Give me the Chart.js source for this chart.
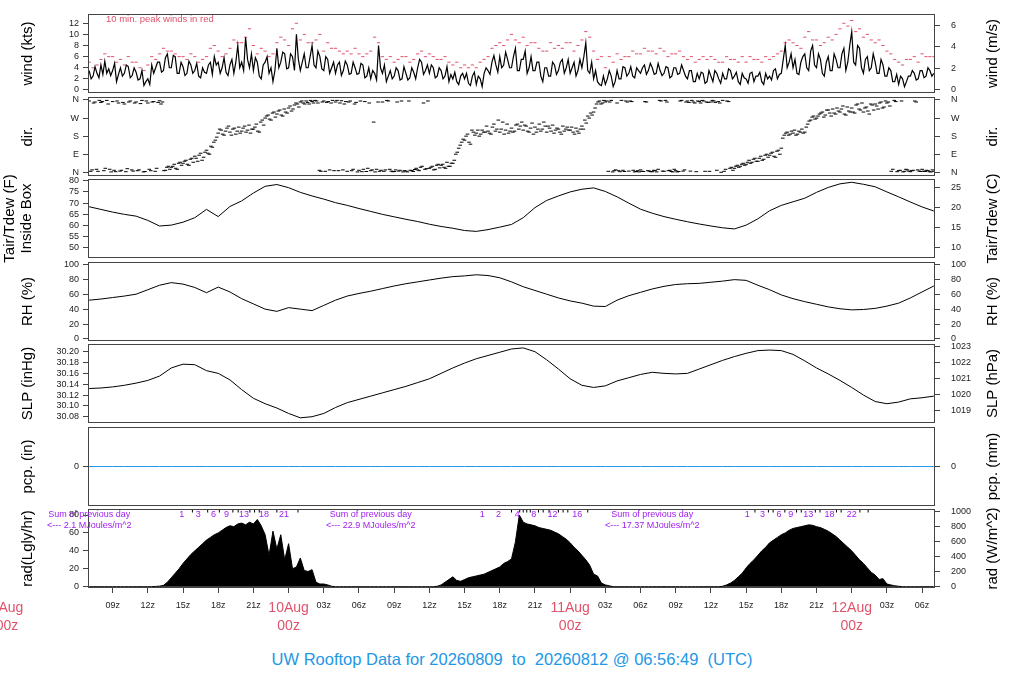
<!DOCTYPE html>
<html>
<head>
<meta charset="utf-8">
<title>UW Rooftop Data</title>
<script src="https://cdn.jsdelivr.net/npm/chart.js@4.4.0/dist/chart.umd.min.js"></script>
<style>
  body { margin: 0; background: #fff; width: 1024px; height: 700px; position: relative; overflow: hidden; }
  canvas { position: absolute; left: 0; }
  #footer { position: absolute; left: 0; top: 650px; width: 1024px; line-height: 20px; text-align: center;
            color: #2297E6; font: 16.5px "Liberation Sans", Arial, sans-serif; white-space: pre; }
</style>
</head>
<body>
<div id="footer">UW Rooftop Data for 20260809  to  20260812 @ 06:56:49  (UTC)</div>
<script>
// time axis is hours after 2026-08-09 00z
const X_MIN = 6.9, X_MAX = 79.1;
const START = 7;

// wind speed (kts), every 10 min from 07z 9Aug
const windKts = [
  3.5, 2.0, 2.5, 4.2, 3.0, 2.2,   4.5, 2.8, 5.2, 3.0, 3.8, 2.6,   // 07-08
  3.5, 4.8, 1.5, 2.8, 4.0, 2.5,   3.0, 4.5, 4.2, 2.2, 2.6, 4.0,   // 09-10
  3.2, 1.8, 2.0, 3.5, 0.8, 1.5,   2.0, 1.0, 4.5, 3.0, 4.0, 5.0,   // 11-12
  5.0, 3.2, 3.5, 5.8, 6.5, 4.0,   4.0, 6.2, 6.0, 3.0, 3.0, 5.0,   // 13-14
  4.2, 2.6, 3.0, 5.2, 4.5, 3.0,   3.5, 4.8, 2.5, 2.2, 4.0, 3.2,   // 15-16
  3.0, 4.5, 5.0, 2.8, 6.0, 4.5,   5.0, 3.0, 4.0, 5.8, 3.2, 2.6,   // 17-18
  4.5, 5.5, 3.0, 5.0, 8.0, 4.0,   5.0, 3.5, 9.5, 5.5, 4.0, 6.5,   // 19-20
  3.5, 5.8, 5.0, 2.5, 2.0, 4.5,   5.0, 6.0, 3.0, 4.0, 1.5, 3.5,   // 21-22
  7.5, 4.0, 5.0, 6.8, 6.5, 3.8,   4.0, 6.5, 6.0, 3.5, 10.0, 5.5,  // 23-24
  3.5, 5.0, 6.5, 4.0, 4.0, 6.0,   8.0, 4.5, 4.0, 7.0, 6.0, 3.8,   // 25-26
  3.5, 6.0, 5.5, 3.0, 4.0, 5.0,   3.0, 4.5, 5.0, 2.6, 3.5, 5.2,   // 27-28
  4.5, 2.8, 3.0, 5.0, 4.0, 2.8,   3.0, 4.8, 4.5, 2.2, 2.5, 4.0,   // 29-30
  2.0, 3.5, 3.0, 1.8, 8.0, 4.0,   3.0, 4.5, 1.5, 2.5, 3.5, 2.0,   // 31-32
  2.5, 4.0, 3.5, 1.8, 2.0, 4.2,   3.0, 1.8, 2.2, 4.0, 3.2, 2.0,   // 33-34
  4.0, 5.5, 5.0, 2.8, 3.5, 4.5,   3.0, 4.5, 4.0, 2.2, 2.5, 4.0,   // 35-36
  3.5, 2.0, 2.5, 4.2, 1.5, 2.8,   2.0, 3.2, 1.5, 1.0, 2.5, 3.0,   // 37-38
  2.0, 3.0, 1.2, 0.8, 2.5, 3.2,   1.0, 2.5, 2.0, 0.6, 3.0, 4.0,   // 39-40
  3.5, 2.8, 5.0, 6.2, 4.5, 3.2,   6.0, 4.0, 4.5, 6.8, 5.5, 4.0,   // 41-42
  4.0, 6.0, 7.5, 3.5, 3.5, 5.5,   5.5, 7.0, 3.0, 4.0, 6.0, 3.5,   // 43-44
  3.5, 5.0, 5.0, 2.5, 1.5, 4.0,   4.0, 2.5, 2.5, 5.0, 4.5, 2.8,   // 45-46
  3.5, 5.0, 5.5, 3.0, 4.0, 5.5,   3.0, 4.0, 5.0, 2.5, 3.5, 5.5,   // 47-48
  4.0, 6.0, 8.5, 3.5, 3.0, 5.0,   2.0, 3.5, 1.5, 1.0, 0.8, 2.5,   // 49-50
  1.0, 2.0, 3.5, 2.5, 0.6, 1.5,   3.5, 2.0, 2.0, 4.2, 4.0, 2.5,   // 51-52
  3.0, 4.2, 2.5, 2.2, 4.0, 3.5,   3.0, 4.0, 4.5, 2.8, 3.5, 4.8,   // 53-54
  4.0, 2.8, 3.0, 4.8, 3.5, 2.6,   3.0, 4.2, 4.0, 2.2, 2.5, 4.0,   // 55-56
  4.0, 2.8, 3.0, 4.5, 3.5, 2.5,   2.0, 3.5, 3.5, 1.5, 1.5, 3.0,   // 57-58
  2.0, 3.2, 3.0, 1.2, 1.5, 3.5,   2.5, 1.5, 3.5, 3.0, 2.0, 1.2,   // 59-60
  3.0, 2.0, 2.0, 3.8, 3.5, 2.0,   2.5, 3.2, 1.5, 1.0, 3.0, 2.2,   // 61-62
  2.0, 1.2, 3.0, 3.2, 1.5, 2.5,   2.5, 3.2, 1.5, 1.0, 3.0, 2.0,   // 63-64
  2.5, 1.8, 3.5, 3.8, 2.0, 2.8,   3.0, 5.5, 8.0, 4.0, 5.0, 6.5,   // 65-66
  4.0, 5.5, 3.0, 2.8, 5.0, 6.0,   6.5, 4.0, 3.5, 7.0, 8.0, 4.5,   // 67-68
  4.0, 6.5, 5.5, 3.0, 2.5, 5.0,   6.0, 3.5, 3.5, 6.5, 5.5, 4.0,   // 69-70
  4.0, 6.5, 7.5, 3.5, 5.0, 8.0,   10.5, 5.0, 4.5, 8.0, 7.5, 4.0,  // 71-72
  3.0, 5.5, 6.0, 3.5, 4.0, 6.5,   5.0, 3.0, 3.0, 5.5, 4.5, 2.5,   // 73-74
  2.5, 4.0, 3.5, 1.5, 1.5, 2.8,   1.0, 2.5, 2.0, 0.6, 1.5, 2.5,   // 75-76
  2.5, 3.5, 3.0, 1.8, 2.0, 3.5,   3.5, 2.2, 2.5, 4.0, 3.5, 2.5,   // 77-78
  3.0
];

// 10 min. peak wind (kts), every 20 min
const peakKts = [
  5.0, 4.0, 4.5,  5.5, 6.5, 6.0,  6.0, 5.0, 5.5,  4.5, 6.0, 5.0,   // 07-10
  5.0, 4.0, 3.5,  4.5, 6.0, 5.5,  6.5, 7.5, 7.0,  7.0, 6.5, 6.0,   // 11-14
  6.0, 5.5, 6.5,  6.0, 5.0, 5.5,  6.0, 7.5, 8.0,  7.0, 6.0, 6.5,   // 15-18
  7.5, 9.0, 8.5,  8.5, 9.5, 11.0, 8.0, 6.5, 7.5,  7.0, 6.0, 6.5,   // 19-22
  8.5, 9.5, 9.0,  8.0, 11.0, 12.0, 9.0, 10.0, 8.5, 8.5, 9.0, 10.0, // 23-26
  7.0, 8.5, 7.5,  7.5, 7.0, 6.5,  7.0, 6.5, 7.5,  6.5, 6.0, 6.5,   // 27-30
  7.0, 9.5, 8.5,  6.0, 5.5, 6.0,  5.0, 5.5, 6.0,  6.0, 5.0, 5.5,   // 31-34
  6.5, 7.0, 6.0,  6.5, 6.0, 5.5,  5.5, 6.0, 5.0,  4.5, 5.0, 4.0,   // 35-38
  4.5, 4.0, 4.5,  4.0, 5.0, 5.5,  6.0, 7.5, 8.0,  8.5, 8.0, 9.0,   // 39-42
  10.0, 9.0, 8.5, 9.5, 8.0, 8.5,  8.5, 7.5, 7.0,  7.0, 8.5, 7.5,   // 43-46
  8.0, 7.5, 8.5,  8.5, 7.0, 8.0,  9.0, 10.5, 9.5, 7.0, 5.5, 6.0,   // 47-50
  4.0, 6.0, 5.0,  6.5, 5.5, 6.0,  6.0, 7.0, 6.5,  6.5, 7.5, 7.0,   // 51-54
  7.0, 6.5, 7.5,  7.0, 6.0, 6.5,  6.5, 7.0, 6.0,  5.5, 6.0, 5.0,   // 55-58
  5.5, 6.0, 5.5,  6.0, 5.5, 5.0,  5.0, 6.0, 5.5,  5.5, 5.0, 6.0,   // 59-62
  5.0, 6.0, 5.5,  5.5, 5.0, 6.0,  5.5, 6.0, 6.5,  7.0, 8.5, 9.0,   // 63-66
  8.5, 8.0, 7.5,  9.5, 10.5, 9.0, 9.0, 8.0, 8.5,  9.5, 9.0, 10.0,  // 67-70
  11.0, 12.0, 11.5, 12.5, 10.5, 11.0, 9.5, 10.0, 9.0, 8.5, 9.0, 8.0, // 71-74
  7.0, 6.5, 5.5,  5.0, 4.5, 5.5,  5.5, 6.0, 5.0,  6.5, 6.0, 6.0,   // 75-78
  6.0
];

// wind direction (deg), every 15 min from 07:00
const dirDeg = [
  355, 12, 350, 5,    348, 8, 358, 15,    352, 3, 345, 10,    340, 18, 355, 6,      // 07-10
  350, 12, 358, 4,    345, 8, 352, 20,    356, 350, 10, 30,   25, 40, 15, 50,       // 11-14
  45, 60, 35, 70,     80, 55, 95, 75,     110, 90, 125, 160,  195, 210, 185, 220,   // 15-18
  200, 215, 190, 225, 205, 230, 210, 195, 215, 240, 200, 260, 270, 285, 260, 300,   // 19-22
  290, 310, 280, 300, 320, 305, 335, 340, 350, 345, 355, 340, 352, 358, 345, 5,     // 23-26
  355, 348, 12, 358,  350, 8, 356, 340,   5, 355, 15, 348,    10, 3, 352, 20,       // 27-30
  8, 250, 15, 5,      350, 12, 355, 6,    4, 350, 10, 2,      6, 355, 8, 14,        // 31-34
  12, 25, 345, 18,    20, 30, 15, 40,     35, 25, 50, 30,     45, 90, 120, 150,     // 35-38
  160, 190, 140, 200, 195, 180, 210, 200, 205, 190, 240, 215, 200, 250, 210, 195,   // 39-42
  220, 205, 240, 230, 210, 230, 200, 245, 225, 215, 205, 250, 200, 220, 235, 210,   // 43-46
  215, 190, 205, 225, 210, 200, 220, 195, 230, 260, 280, 295, 300, 340, 355, 345,   // 47-50
  350, 5, 358, 8,     345, 3, 10, 355,    6, 352, 2, 8,       12, 4, 350, 6,        // 51-54
  3, 8, 15, 355,      5, 350, 10, 2,      8, 4, 358, 12,      355, 6, 350, 3,       // 55-58
  352, 358, 5, 348,   350, 355, 10, 345,  358, 15, 352, 25,   20, 35, 30, 45,       // 59-62
  40, 60, 50, 70,     55, 80, 65, 90,     85, 100, 75, 110,   120, 185, 200, 190,   // 63-66
  195, 185, 205, 215, 200, 240, 260, 280, 270, 290, 300, 285, 310, 280, 295, 320,   // 67-70
  300, 330, 285, 305, 320, 295, 340, 310, 300, 325, 290, 335, 340, 315, 350, 325,   // 71-74
  345, 330, 15, 352,  8, 355, 5, 12,      3, 10, 350, 6,      15, 4, 8, 2,          // 75-78
  5
];
// wind direction (deg), every 15 min from 07:07:30
const dirDeg2 = [
  5, 345, 15, 358,    352, 20, 340, 2,    10, 355, 6, 348,    3, 350, 12, 345,      // 07-10
  8, 342, 2, 355,     15, 350, 5, 348,    340, 8, 25, 15,     30, 20, 45, 35,       // 11-14
  55, 40, 65, 50,     70, 85, 60, 100,    95, 130, 150, 175,  215, 190, 205, 230,   // 15-18
  185, 220, 205, 195, 220, 200, 235, 215, 225, 205, 250, 235, 280, 265, 295, 275,   // 19-22
  305, 285, 315, 295, 330, 315, 345, 325, 355, 340, 348, 358, 345, 355, 10, 350,    // 23-26
  5, 352, 345, 8,     358, 345, 12, 352,  350, 8, 340, 2,     355, 15, 4, 345,      // 27-30
  12, 2, 350, 10,     5, 358, 15, 3,      12, 6, 355, 8,      2, 10, 4, 20,         // 31-34
  8, 30, 15, 355,     25, 12, 35, 22,     40, 20, 30, 45,     60, 100, 135, 165,    // 35-38
  180, 150, 210, 185, 210, 190, 200, 230, 195, 225, 205, 260, 215, 190, 240, 205,   // 39-42
  200, 235, 215, 250, 235, 205, 220, 190, 200, 240, 215, 230, 230, 205, 195, 220,   // 43-46
  200, 230, 215, 210, 225, 190, 205, 215, 215, 245, 270, 285, 320, 350, 340, 358,   // 47-50
  355, 350, 2, 12,    8, 358, 4, 350,     355, 10, 4, 2,      5, 352, 8, 3,         // 51-54
  10, 2, 358, 6,      358, 8, 4, 15,      2, 355, 6, 350,     348, 358, 345, 355,   // 55-58
  345, 355, 350, 5,   358, 348, 352, 0,   5, 355, 20, 10,     30, 25, 40, 35,       // 59-62
  50, 45, 65, 55,     70, 60, 85, 75,     95, 80, 105, 90,    170, 195, 185, 205,   // 63-66
  210, 190, 200, 195, 225, 255, 275, 265, 280, 295, 275, 310, 295, 315, 290, 305,   // 67-70
  315, 290, 325, 300, 300, 335, 315, 345, 320, 305, 340, 310, 330, 345, 320, 355,   // 71-74
  350, 5, 358, 3,     10, 2, 15, 6,       8, 355, 12, 4,      6, 10, 3, 12          // 75-78
];

// hourly values 07z 9Aug .. 07z 12Aug
const tairF = [
  68.4, 67.2, 66.0, 65.0, 64.2, 62.3, 59.8, 60.2, 61.5, 63.5, 67.2, 64.0,   // 07-18
  68.5, 71.0, 74.5, 77.5, 78.3, 76.9, 74.8, 73.2, 71.8, 70.2, 69.0, 67.6,   // 19-30
  66.3, 65.0, 63.9, 62.8, 61.8, 60.6, 59.6, 58.8, 57.8, 57.4, 58.2, 59.3,   // 31-42
  60.5, 63.5, 68.0, 71.2, 73.2, 75.0, 76.2, 76.8, 75.2, 72.8, 70.0, 67.3,   // 43-54
  65.5, 64.0, 62.8, 61.7, 60.7, 59.8, 59.0, 58.5, 60.2, 63.0, 66.6, 69.0,   // 55-66
  70.6, 72.2, 74.8, 77.0, 78.6, 79.3, 78.4, 77.3, 75.0, 72.8, 70.5, 68.3,   // 67-78
  66.5
];
const rhPct = [
  52, 53.5, 55.5, 57.5, 60, 66, 72, 75.5, 73.5, 69, 62, 69.5,               // 07-18
  63, 54, 47, 40, 37, 42, 40, 38, 45, 52, 57.5, 61,                         // 19-30
  64, 67.5, 71, 74, 76.5, 79, 81.5, 83.5, 84.5, 86, 85, 82,                 // 31-42
  76.5, 70, 65, 60, 55, 51, 48, 44, 43.5, 52, 58, 62.5,                     // 43-54
  67, 70.5, 73, 74, 74.5, 76, 77.5, 79.5, 78.5, 72, 66, 59,                 // 55-66
  54, 50, 46.5, 43, 40.5, 39, 39.5, 41, 44, 48, 55, 63,                     // 67-78
  71
];
const slpInHg = [
  30.132, 30.133, 30.135, 30.138, 30.142, 30.147, 30.155, 30.170, 30.177, 30.176, 30.165, 30.160, // 07-18
  30.148, 30.130, 30.114, 30.104, 30.096, 30.086, 30.078, 30.080, 30.086, 30.097, 30.106, 30.112, // 19-30
  30.118, 30.124, 30.130, 30.136, 30.143, 30.150, 30.160, 30.170, 30.179, 30.187, 30.193, 30.199, // 31-42
  30.205, 30.207, 30.200, 30.185, 30.168, 30.150, 30.138, 30.134, 30.137, 30.146, 30.152, 30.158, // 43-54
  30.162, 30.160, 30.159, 30.160, 30.168, 30.176, 30.184, 30.191, 30.197, 30.202, 30.203, 30.202, // 55-66
  30.195, 30.183, 30.170, 30.159, 30.147, 30.134, 30.120, 30.108, 30.104, 30.107, 30.113, 30.115, // 67-78
  30.118
];
const pcpIn = [
  0, 0, 0, 0, 0, 0, 0, 0, 0, 0, 0, 0,  0, 0, 0, 0, 0, 0, 0, 0, 0, 0, 0, 0,
  0, 0, 0, 0, 0, 0, 0, 0, 0, 0, 0, 0,  0, 0, 0, 0, 0, 0, 0, 0, 0, 0, 0, 0,
  0, 0, 0, 0, 0, 0, 0, 0, 0, 0, 0, 0,  0, 0, 0, 0, 0, 0, 0, 0, 0, 0, 0, 0,
  0
];

// solar radiation (Langley/hr), every 20 min
const radLy = [
  0, 0, 0,  0, 0, 0,  0, 0, 0,  0, 0, 0,  0, 0, 0,                    // 07-11
  0, 0, 0.3,  0.6, 1.5, 5,  10, 15, 20,  26, 31, 36,                    // 12-15
  40, 44, 48,  52, 55, 58,  60, 63, 66,  68, 67, 70,                    // 16-19
  71, 69, 72,  70, 75, 68,  58, 35, 62,  42, 58, 30,                    // 20-23
  48, 20, 22,  32, 18, 17,  19, 5, 3,  3, 2, 0.5,                       // 24-27
  0, 0, 0,  0, 0, 0,  0, 0, 0,  0, 0, 0,                                // 28-31
  0, 0, 0,  0, 0, 0,  0, 0, 0,  0, 0, 0,                                // 32-35
  0, 0, 0.5,  2, 5, 8,  11, 7, 6,  8, 10, 11,                           // 36-39
  12, 13, 14,  16, 18, 20,  22, 26, 28,  31, 50, 80,                    // 40-43
  72, 70, 69,  68, 66, 65,  64, 63, 61,  59, 56, 53,                    // 44-47
  49, 44, 40,  35, 30, 24,  14, 12, 4,  2, 1, 0,                        // 48-51
  0, 0, 0,  0, 0, 0,  0, 0, 0,  0, 0, 0,                                // 52-55
  0, 0, 0,  0, 0, 0,  0, 0, 0,  0, 0, 0,                                // 56-59
  0, 0, 0,  0.5, 2, 4,  7, 11, 15,  21, 26, 30,                         // 60-63
  35, 40, 44,  49, 52, 55,  58, 60, 63,  65, 66, 67,                    // 64-67
  68, 69, 68.5,  67, 66, 64,  62, 59, 56,  52, 48, 44,                  // 68-71
  40, 35, 30,  26, 21, 16,  13, 8, 9,  3, 2, 1,                         // 72-75
  0.5, 0, 0,  0, 0, 0,  0, 0, 0,                                        // 76-78
  0
];

// hour marks along the top of the radiation panel
const radTickHours = [15.8, 17.1, 18.1, 19.25, 19.7, 20.7, 21.1, 21.5, 23.0, 24.8,
  43.0, 43.7, 44.0, 44.3, 44.6, 45.3, 45.7, 46.2, 47.0, 47.4, 47.8, 49.5,
  63.75, 64.9, 65.3, 66.3, 67.3, 67.7, 68.9, 69.3, 70.7, 71.1, 72.7, 73.4];
const radLabelHours = [14.9, 16.3, 17.6, 18.7, 20.2, 21.9, 23.6,
  40.5, 41.9, 43.5, 44.9, 46.5, 48.6,
  63.1, 64.4, 65.8, 66.8, 68.3, 70.1, 72.0];
const radLabelText = ['1', '3', '6', '9', '13', '18', '21',
  '1', '2', '4', '8', '12', '16',
  '1', '3', '6', '9', '13', '18', '22'];

// daily radiation totals
const sumHours = [7, 31, 55];
const sumMJ = ['2.1', '22.9', '17.37'];

// date labels under the time axis
const dateHours = [0, 24, 48, 72];
const dateText = ['9Aug', '10Aug', '11Aug', '12Aug'];

const FONT = '"Liberation Sans", Arial, Helvetica, sans-serif';
const RED = '#DF536B', BLUE = '#2297E6', PURPLE = '#A020F0';
Chart.defaults.font.family = FONT;

const xy = (vals, start, step) => vals.map((v, i) => ({ x: start + i * step, y: v }));

function vtext(ctx, t, x, y) {
  ctx.save();
  ctx.translate(x, y);
  ctx.rotate(-Math.PI / 2);
  ctx.fillText(t, 0, 0);
  ctx.restore();
}

const decor = {
  id: 'decor',
  afterDraw(chart, args, o) {
    const { ctx } = chart;
    const a = chart.chartArea;
    const xs = chart.scales.x;
    ctx.save();
    ctx.strokeStyle = '#444';
    ctx.lineWidth = 1;
    ctx.strokeRect(a.left + 0.5, a.top + 0.5, a.width - 1, a.height - 1);

    ctx.fillStyle = '#000';
    ctx.font = '15px ' + FONT;
    ctx.textAlign = 'center';
    ctx.textBaseline = 'middle';
    const cy = (a.top + a.bottom) / 2;
    const lx = o.left.length > 1 ? [10, 27] : [28];
    o.left.forEach((t, i) => vtext(ctx, t, lx[i], cy));
    vtext(ctx, o.right, 993, cy);

    if (o.note) {
      ctx.font = '9.5px ' + FONT;
      ctx.fillStyle = RED;
      ctx.textAlign = 'left';
      ctx.fillText(o.note, a.left + 18, a.top + 5.5);
    }

    if (o.rad) {
      ctx.font = '9px ' + FONT;
      ctx.fillStyle = PURPLE;
      ctx.textAlign = 'center';
      sumHours.forEach((h, i) => {
        const x = xs.getPixelForValue(h);
        ctx.fillText('Sum of previous day', x, a.top + 6);
        ctx.fillText('<--- ' + sumMJ[i] + ' MJoules/m^2', x, a.top + 17);
      });
      radLabelHours.forEach((h, i) => ctx.fillText(radLabelText[i], xs.getPixelForValue(h), a.top + 6));

      ctx.font = '14px ' + FONT;
      ctx.fillStyle = RED;
      dateHours.forEach((h, i) => {
        const x = xs.getPixelForValue(h);
        ctx.fillText(dateText[i], x, a.bottom + 20);
        ctx.fillText('00z', x, a.bottom + 38);
      });
    }
    ctx.restore();
  }
};

function yAxis(pos, min, max, step, fmt) {
  return {
    type: 'linear', position: pos, min, max,
    grid: { display: true, drawOnChartArea: false, drawTicks: true, tickLength: 5, color: '#444' },
    border: { display: false },
    ticks: { stepSize: step, includeBounds: false, autoSkip: false, padding: pos === 'left' ? 4 : 11,
             color: '#222', font: { size: 9 }, callback: fmt },
    afterFit(s) { s.width = pos === 'left' ? 88 : 89; s.paddingTop = 0; s.paddingBottom = 0; }
  };
}
const hiddenX = { type: 'linear', min: X_MIN, max: X_MAX, display: false };
const num = v => String(v);

function panel(top, bottom, datasets, yl, yr, titles, bottomAxis) {
  const pad = 10;
  const axisH = 61;
  const c = document.createElement('canvas');
  const h = bottom - top + pad + (bottomAxis ? axisH : pad);
  c.width = 1024;
  c.height = h;
  c.style.top = (top - pad) + 'px';
  document.body.appendChild(c);
  const x = bottomAxis ? {
    type: 'linear', position: 'bottom', min: X_MIN, max: X_MAX,
    grid: { display: true, drawOnChartArea: false, drawTicks: true, tickLength: 5, color: '#444' },
    border: { display: false },
    ticks: { stepSize: 3, includeBounds: false, autoSkip: false, maxRotation: 0, minRotation: 0, padding: 7,
             color: '#222', font: { size: 9 },
             callback: v => (v % 24 === 0 ? '' : String(v % 24).padStart(2, '0') + 'z') },
    afterFit(s) { s.height = axisH; s.paddingLeft = 0; s.paddingRight = 0; }
  } : hiddenX;
  return new Chart(c, {
    type: 'line',
    data: { datasets },
    options: {
      responsive: false, animation: false, devicePixelRatio: 1,
      layout: { padding: { top: pad, bottom: bottomAxis ? 0 : pad, left: 0, right: 0 } },
      plugins: { legend: { display: false }, tooltip: { enabled: false }, decor: titles },
      scales: { x, y: yl, y2: yr }
    },
    plugins: [decor]
  });
}

const lineDs = (data, color, w) => ({ data, borderColor: color, borderWidth: w || 1, pointRadius: 0, tension: 0 });
const dashDs = (data, color, r, rot) => ({ data, showLine: false, pointStyle: 'line', pointRadius: r,
  pointRotation: rot || 0, borderColor: color, pointBorderColor: color, pointBorderWidth: 1 });

// wind
panel(14, 93,
  [lineDs(xy(windKts, START, 1 / 6), '#000', 1.2), dashDs(xy(peakKts, START, 1 / 3), RED, 1.6)],
  yAxis('left', -0.54, 13.67, 2, num),
  yAxis('right', -0.54 * 0.5144, 13.67 * 0.5144, 2, num),
  { left: ['wind (kts)'], right: 'wind (m/s)', note: '10 min. peak winds in red' });

// direction
const compass = ['N', 'E', 'S', 'W', 'N'];
panel(97, 176,
  [dashDs(xy(dirDeg, START, 0.25), '#000', 1.8), dashDs(xy(dirDeg2, START + 0.125, 0.25), '#000', 1.8)],
  yAxis('left', -18.4, 374.9, 90, v => compass[v / 90]),
  yAxis('right', -18.4, 374.9, 90, v => compass[v / 90]),
  { left: ['dir.'], right: 'dir.' });

// temperature
panel(179, 258,
  [lineDs(xy(tairF, START, 1), '#000')],
  yAxis('left', 45.54, 80.76, 5, num),
  yAxis('right', (45.54 - 32) / 1.8, (80.76 - 32) / 1.8, 5, num),
  { left: ['Tair/Tdew (F)', 'Inside Box'], right: 'Tair/Tdew (C)' });

// relative humidity
panel(262, 341,
  [lineDs(xy(rhPct, START, 1), '#000')],
  yAxis('left', -2.68, 103.1, 20, num),
  yAxis('right', -2.68, 103.1, 20, num),
  { left: ['RH (%)'], right: 'RH (%)' });

// sea level pressure
panel(344, 423,
  [lineDs(xy(slpInHg, START, 1), '#000')],
  yAxis('left', 30.0684, 30.2142, 0.02, v => v.toFixed(2)),
  yAxis('right', 30.0684 * 33.8639, 30.2142 * 33.8639, 1, num),
  { left: ['SLP (inHg)'], right: 'SLP (hPa)' });

// precipitation
const zeroOnly = s => { s.ticks = [{ value: 0 }]; };
const pcpL = yAxis('left', -1, 1, 1, num);
const pcpR = yAxis('right', -1, 1, 1, num);
pcpL.afterBuildTicks = zeroOnly;
pcpR.afterBuildTicks = zeroOnly;
panel(427, 506,
  [lineDs(xy(pcpIn, START, 1), BLUE)],
  pcpL, pcpR,
  { left: ['pcp. (in)'], right: 'pcp. (mm)' });

// solar radiation
const radFill = lineDs(xy(radLy, START, 1 / 3), '#000');
radFill.fill = 'origin';
radFill.backgroundColor = '#000';
panel(509, 588,
  [radFill, dashDs(radTickHours.map(h => ({ x: h, y: 85 })), '#000', 2, 90)],
  yAxis('left', -1.45, 86.7, 20, num),
  yAxis('right', -17, 1036, 200, num),
  { left: ['rad(Lgly/hr)'], right: 'rad (W/m^2)', rad: true },
  true);
</script>
</body>
</html>
